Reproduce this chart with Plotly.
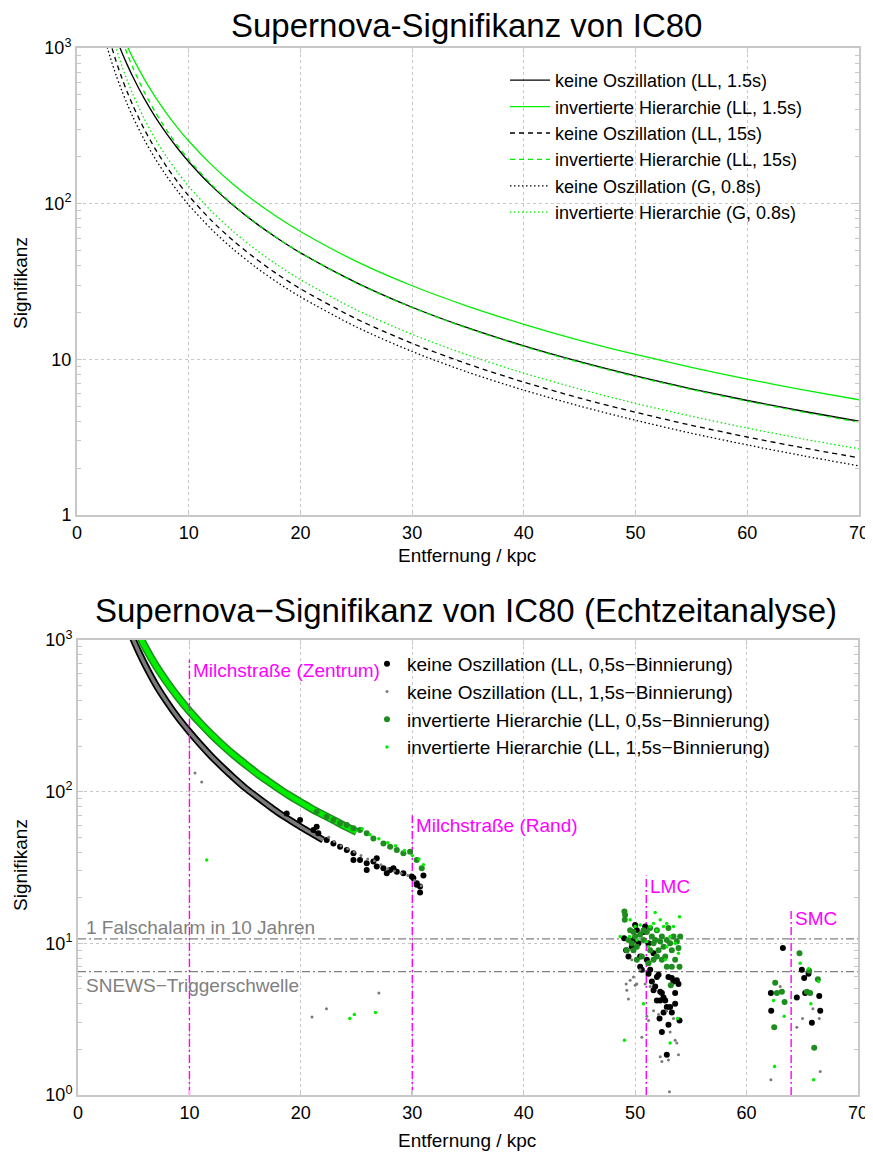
import math
import plotly.graph_objects as go

FONT = "Liberation Sans, Arial, Helvetica, sans-serif"
# the page body adds an 8px margin, so the figure is drawn 8px in from the window edge
OFF = 8
W, H = 873 - 2 * OFF, 1160 - 2 * OFF


def fx(p):
    return (p - OFF) / W


def fy(p):
    return 1 - (p - OFF) / H


# ---------------- top chart data (distance in kpc, significance) ----------------
dist = [2.5, 3, 3.5, 4, 4.5, 5, 6, 7, 8, 9, 10, 12, 14, 16, 18, 20, 25, 30, 35, 40, 45, 50, 55, 60, 65, 70]
sig_no_ll1_5 = [1888, 1461, 1161, 943, 779, 653, 476, 361, 283, 227, 186, 131, 97.3, 75.0, 59.5, 48.3, 31.1, 21.6, 15.9, 12.2, 9.65, 7.82, 6.47, 5.44, 4.64, 4.0]
sig_ih_ll1_5 = [2401, 1877, 1506, 1232, 1025, 864, 636, 485, 382, 307, 252.5, 178.8, 132.9, 102.5, 81.5, 66.3, 42.6, 29.7, 21.9, 16.8, 13.26, 10.75, 8.89, 7.47, 6.37, 5.5]
sig_no_ll15 = [1462, 1076, 822, 646, 521, 428, 303, 225, 173.7, 138, 112.3, 78.4, 57.7, 44.3, 35.0, 28.4, 18.2, 12.66, 9.32, 7.14, 5.64, 4.57, 3.77, 3.17, 2.70, 2.33]
sig_ih_ll15 = [2732, 1965, 1476, 1148, 916, 748, 525, 388, 298, 236, 191.9, 133.6, 98.3, 75.3, 59.6, 48.3, 30.9, 21.5, 15.8, 12.1, 9.56, 7.74, 6.40, 5.38, 4.58, 3.95]
sig_no_g08 = [1136, 859, 669, 535, 436, 361, 259, 194.5, 151, 120.5, 98.3, 68.9, 50.9, 39.1, 31.0, 25.2, 16.15, 11.23, 8.26, 6.34, 5.01, 4.06, 3.35, 2.82, 2.40, 2.07]
sig_ih_g08 = [1841, 1324, 995, 773, 617.5, 504, 353.5, 261.3, 200.9, 159.2, 129.2, 90.0, 66.2, 50.7, 40.1, 32.5, 20.8, 14.47, 10.64, 8.15, 6.44, 5.21, 4.31, 3.62, 3.08, 2.66]

top_names = ["keine Oszillation (LL, 1.5s)", "invertierte Hierarchie (LL, 1.5s)",
             "keine Oszillation (LL, 15s)", "invertierte Hierarchie (LL, 15s)",
             "keine Oszillation (G, 0.8s)", "invertierte Hierarchie (G, 0.8s)"]

# ---------------- bottom chart data ----------------
# dense band (Milky Way region)
band_no_d = [4.5, 5, 5.5, 6, 7, 8, 9, 10, 11, 12, 13, 14, 15, 16, 17, 18, 19, 20, 21, 22]
band_no_v = [1216, 990, 820, 690, 505, 388, 306, 248, 204, 170, 144, 123, 106, 93, 82, 72.5, 65, 58.5, 53, 48]
band_ih_d = [5.2, 5.7, 6, 7, 8, 9, 10, 11, 12, 13, 14, 15, 16, 17, 18, 19, 20, 21, 22, 23, 24, 25]
band_ih_v = [1198, 1000, 904, 675, 525, 418, 340, 282, 237, 202, 174, 152, 133, 118, 105, 94, 85, 77, 70.5, 64.5, 59, 54.4]

# keine Oszillation, 0,5s binning (black)
no05_d = [21.13, 21.57, 22.32, 22.92, 23.52, 24.12, 24.72, 25.31, 25.91, 26.51, 26.81, 27.41, 28.01, 28.61, 29.20, 29.95, 30.40, 30.70, 25.91, 26.81, 27.71, 28.31, 24.72, 21.42, 19.93, 18.73, 30.4, 30.7, 30.1, 31.0,
          49.01, 49.19, 49.40, 49.70, 49.85, 50.00, 50.15, 50.30, 50.45, 50.60, 50.75, 50.90, 51.05, 51.20, 51.35, 51.50, 51.65, 51.80, 51.95, 52.10, 52.25, 52.40, 52.55, 52.70, 52.84, 52.99, 53.14, 53.29, 53.44, 53.59, 53.74, 53.89, 53.98, 52.19, 52.40, 52.84, 52.99, 51.95, 52.55, 53.29, 53.59, 51.65, 52.25, 51.20, 50.45,
          63.26, 64.96, 65.17, 65.56, 64.51, 65.26, 66.52, 62.18, 66.61, 62.21, 65.86]
no05_v = [55.9, 53.1, 48.0, 45.6, 43.4, 41.2, 39.2, 35.4, 33.7, 34.6, 32.1, 31.3, 30.5, 29.7, 29.0, 27.6, 24.9, 23.7, 30.5, 36.4, 29.0, 31.3, 35.4, 58.7, 65.0, 71.9, 24.3, 21.6, 27.0, 28.0,
          10.8, 9.0, 8.2, 9.5, 10.5, 13.2, 12.2, 10.0, 8.2, 6.7, 11.9, 12.9, 7.8, 10.0, 6.7, 5.6, 8.6, 5.2, 6.0, 6.2, 4.8, 4.7, 4.4, 4.2, 3.8, 6.0, 3.8, 5.9, 5.6, 4.0, 5.7, 5.4, 3.1, 3.2, 2.6, 1.84, 2.9, 4.2, 3.5, 3.5, 4.7, 4.9, 4.2, 6.3, 7.0,
          9.3, 6.7, 5.9, 6.3, 4.4, 4.7, 4.5, 4.7, 3.6, 3.6, 3.0]

# keine Oszillation, 1,5s binning (grey)
no15_d = [22.5, 23.0, 23.6, 24.2, 24.8, 25.4, 26.0, 26.6, 27.2, 27.8, 28.4, 29.0, 29.6, 30.2, 30.8, 10.5, 11.1, 21.0, 22.3, 27.0,
          49.19, 49.25, 49.40, 49.55, 49.85, 50.00, 50.15, 50.60, 50.90, 51.05, 51.20, 51.35, 51.65, 52.10, 52.25, 52.40, 52.84, 52.99, 53.14, 53.44, 53.59, 53.74, 53.89, 53.08, 50.45, 49.70,
          62.18, 64.51, 65.02, 65.95, 66.52, 66.61, 63.02]
no15_v = [50, 47, 44, 42, 40, 38, 36, 35, 33, 31, 30, 29, 28, 26, 24, 133, 116, 3.27, 3.7, 4.7,
          5.4, 4.9, 4.3, 5.7, 6.0, 5.3, 5.4, 2.4, 5.4, 3.3, 3.1, 5.2, 3.6, 3.4, 1.79, 1.66, 3.6, 1.70, 2.6, 3.2, 2.3, 2.2, 1.84, 1.05, 6.7, 7.8,
          1.26, 2.8, 3.2, 3.7, 3.2, 1.43, 5.2]

# invertierte Hierarchie, 0,5s binning (dark green)
ih05_d = [21.42, 22.32, 22.92, 23.52, 24.12, 24.72, 25.31, 25.91, 26.51, 27.41, 28.01, 28.61, 29.20, 29.80, 30.40, 30.85,
          49.04, 49.10, 49.07, 49.55, 49.85, 49.40, 49.70, 50.00, 50.15, 50.45, 50.75, 51.05, 51.35, 51.50, 51.65, 51.80, 51.95, 52.10, 52.25, 52.40, 52.55, 52.70, 52.84, 52.99, 53.14, 53.29, 53.44, 53.59, 53.74, 53.89, 53.98, 54.04, 52.84, 53.20, 49.85, 50.60, 51.20, 51.65, 49.25, 50.15, 52.40, 53.29, 50.75, 51.35, 51.95,
          64.75, 62.57, 62.72, 63.17, 63.41, 62.48, 65.62, 65.41, 65.71, 66.40, 66.07]
ih05_v = [73.8, 68.4, 65.0, 61.8, 60.3, 57.3, 55.9, 53.1, 49.2, 45.6, 43.4, 41.2, 39.2, 40.2, 35.4, 31.3,
          16.2, 15.4, 14.3, 12.2, 11.9, 10.5, 10.0, 11.1, 9.5, 11.4, 12.2, 11.9, 12.6, 11.1, 10.0, 10.5, 12.2, 9.0, 10.3, 11.1, 9.5, 8.2, 10.5, 12.6, 10.0, 9.0, 11.1, 7.8, 10.3, 9.3, 7.0, 11.1, 7.0, 5.3, 9.0, 8.2, 7.4, 7.8, 9.0, 7.8, 7.8, 7.0, 10.5, 9.0, 8.2,
          8.6, 5.5, 4.7, 4.8, 4.1, 2.8, 6.6, 4.8, 4.7, 5.8, 2.05]

# invertierte Hierarchie, 1,5s binning (light green)
ih15_d = [25.5, 26.2, 27.0, 27.8, 28.5, 29.3, 30.0, 30.6, 31.0, 11.55, 24.4, 24.8, 26.7,
          49.04, 49.55, 50.00, 50.15, 50.45, 50.75, 51.05, 51.35, 51.65, 51.95, 52.25, 52.55, 52.84, 53.14, 53.59, 53.89, 53.98, 53.80, 53.14, 48.66, 49.49, 51.20, 52.84, 52.70, 53.44, 51.80,
          64.81, 65.56, 66.46, 65.77, 63.38, 62.51, 66.01, 62.42]
ih15_v = [57, 52, 49, 46, 44, 41, 38, 36, 33, 35.5, 3.2, 3.4, 3.5,
          2.3, 14.3, 12.9, 10.5, 13.2, 4.0, 10.3, 12.9, 13.5, 12.2, 14.3, 12.9, 13.5, 11.1, 10.0, 8.6, 15.0, 3.2, 2.2, 11.1, 11.1, 9.5, 9.5, 7.8, 12.9, 16.0,
          7.4, 6.8, 5.6, 4.0, 3.3, 1.54, 1.26, 4.2]

# reference lines
src_names = ["Milchstraße (Zentrum)", "Milchstraße (Rand)", "LMC", "SMC"]
src_dist = [10, 30, 51, 64]
src_top = [740, 70, 28, 17]
thr_names = ["1 Falschalarm in 10 Jahren", "SNEWS\u2212Triggerschwelle"]
thr_vals = [10.7, 6.5]

fig = go.Figure()

# ---- top traces ----
top_series = [sig_no_ll1_5, sig_ih_ll1_5, sig_no_ll15, sig_ih_ll15, sig_no_g08, sig_ih_g08]
top_colors = ["black", "#00ee00", "black", "#00ee00", "black", "#00ee00"]
top_dash = ["solid", "solid", "5px,4px", "5px,4px", "1.5px,2.5px", "1.5px,2.5px"]
for name, ys, c, dsh in zip(top_names, top_series, top_colors, top_dash):
    fig.add_trace(go.Scatter(x=dist, y=ys, name=name, mode="lines",
                             line=dict(color=c, width=1.3, dash=dsh, shape="spline", smoothing=0.8),
                             xaxis="x", yaxis="y", legend="legend"))

# ---- bottom traces ----
BLACK, GREY, DGREEN, LGREEN = "#000000", "#7a7a7a", "#1e8c1e", "#00ee00"
fig.add_trace(go.Scatter(x=band_no_d, y=band_no_v, mode="lines", showlegend=False, hoverinfo="skip",
                         line=dict(color=BLACK, width=7, shape="spline"), xaxis="x2", yaxis="y2"))
fig.add_trace(go.Scatter(x=band_no_d, y=band_no_v, mode="lines", showlegend=False, hoverinfo="skip",
                         line=dict(color=GREY, width=3.5, shape="spline"), xaxis="x2", yaxis="y2"))
fig.add_trace(go.Scatter(x=band_ih_d, y=band_ih_v, mode="lines", showlegend=False, hoverinfo="skip",
                         line=dict(color=DGREEN, width=8, shape="spline"), xaxis="x2", yaxis="y2"))
fig.add_trace(go.Scatter(x=band_ih_d, y=band_ih_v, mode="lines", showlegend=False, hoverinfo="skip",
                         line=dict(color=LGREEN, width=5, shape="spline"), xaxis="x2", yaxis="y2"))

for nm, tp in zip(src_dist, src_top):
    fig.add_trace(go.Scatter(x=[nm, nm], y=[1, tp], mode="lines", showlegend=False, hoverinfo="skip",
                             line=dict(color="#ff00ff", width=1.4, dash="8px,3px,2px,3px"),
                             xaxis="x2", yaxis="y2"))
for tv in thr_vals:
    fig.add_trace(go.Scatter(x=[0, 70], y=[tv, tv], mode="lines", showlegend=False, hoverinfo="skip",
                             line=dict(color="#808080", width=1.2, dash="8px,3px,2px,3px"),
                             xaxis="x2", yaxis="y2"))

bottom_names = ["keine Oszillation (LL, 0,5s\u2212Binnierung)", "keine Oszillation (LL, 1,5s\u2212Binnierung)",
                "invertierte Hierarchie (LL, 0,5s\u2212Binnierung)", "invertierte Hierarchie (LL, 1,5s\u2212Binnierung)"]
bottom_data = [(no05_d, no05_v, BLACK, 6), (no15_d, no15_v, GREY, 3),
               (ih05_d, ih05_v, DGREEN, 6), (ih15_d, ih15_v, LGREEN, 3.5)]
for nm, (xs, ys, c, s) in zip(bottom_names, bottom_data):
    fig.add_trace(go.Scatter(x=xs, y=ys, name=nm, mode="markers",
                             marker=dict(color=c, size=s, line=dict(width=0)),
                             xaxis="x2", yaxis="y2", legend="legend2"))

# ---- axes ----
AX = "#c8c8c8"
minor_vals = [v * m for m in (1, 10, 100) for v in range(2, 10)]


def xax(domain, anchor):
    return dict(domain=domain, anchor=anchor, range=[0, 70], tickvals=[0, 10, 20, 30, 40, 50, 60, 70],
                showline=True, linecolor=AX, linewidth=2, mirror="ticks", automargin=False,
                ticks="inside", ticklen=5, tickcolor=AX, tickwidth=1, ticklabeloverflow="allow",
                showgrid=True, gridcolor=AX, griddash="dot", gridwidth=1, zeroline=False,
                tickfont=dict(family=FONT, size=18, color="black"), ticklabelstandoff=0)


def yax(domain, anchor, ticktext):
    return dict(domain=domain, anchor=anchor, type="log", range=[0, 3], automargin=False,
                tickmode="array", tickvals=[1, 10, 100, 1000], ticktext=ticktext,
                showline=True, linecolor=AX, linewidth=2, mirror="ticks", ticklabeloverflow="allow",
                ticks="inside", ticklen=5, tickcolor=AX, tickwidth=1,
                minor=dict(tickmode="array", tickvals=minor_vals, ticks="inside", ticklen=4,
                           tickcolor=AX, showgrid=False),
                showgrid=True, gridcolor=AX, griddash="dot", gridwidth=1, zeroline=False,
                tickfont=dict(family=FONT, size=18, color="black"), ticklabelstandoff=0)


fig.update_layout(
    width=W, height=H, margin=dict(l=0, r=0, t=0, b=0, autoexpand=False),
    paper_bgcolor="white", plot_bgcolor="white",
    font=dict(family=FONT, color="black"),
    xaxis=xax([fx(77), fx(859)], "y"),
    yaxis=yax([fy(515), fy(48)], "x", ["1", "10", "10<sup>2</sup>", "10<sup>3</sup>"]),
    xaxis2=xax([fx(78), fx(858)], "y2"),
    yaxis2=yax([fy(1095), fy(640)], "x2",
               ["10<sup>0</sup>", "10<sup>1</sup>", "10<sup>2</sup>", "10<sup>3</sup>"]),
    legend=dict(x=fx(505), y=fy(62), xanchor="left", yanchor="top", bgcolor="rgba(0,0,0,0)",
                font=dict(family=FONT, size=18, color="black"), tracegroupgap=0, itemwidth=40),
    legend2=dict(x=fx(775), y=fy(645), xanchor="right", yanchor="top", bgcolor="rgba(0,0,0,0)",
                 font=dict(family=FONT, size=19, color="black"), tracegroupgap=0),
)

ann = []
ann.append(dict(text="Supernova-Signifikanz von IC80", x=fx(466), y=fy(25), xref="paper", yref="paper",
                showarrow=False, borderpad=0, font=dict(family=FONT, size=33, color="black"),
                xanchor="center", yanchor="middle"))
ann.append(dict(text="Supernova\u2212Signifikanz von IC80 (Echtzeitanalyse)", x=fx(466), y=fy(610),
                xref="paper", yref="paper", showarrow=False, font=dict(family=FONT, size=33, color="black"),
                xanchor="center", yanchor="middle"))
for yc in (555, 1140):
    ann.append(dict(text="Entfernung / kpc", x=fx(467), y=fy(yc), xref="paper", yref="paper",
                    showarrow=False, font=dict(family=FONT, size=19, color="black"),
                    xanchor="center", yanchor="middle"))
for yc in (283, 865):
    ann.append(dict(text="Signifikanz", x=fx(20), y=fy(yc), xref="paper", yref="paper", textangle=-90,
                    showarrow=False, font=dict(family=FONT, size=19, color="black"),
                    xanchor="center", yanchor="middle"))
for nm, dx, tp in zip(src_names, src_dist, src_top):
    ann.append(dict(text=nm, x=dx, y=math.log10(tp), xref="x2", yref="y2", showarrow=False,
                    xanchor="left", yanchor="top", xshift=2, yshift=2,
                    font=dict(family=FONT, size=19, color="#ff00ff")))
ann.append(dict(text=thr_names[0], x=0, y=math.log10(thr_vals[0]), xref="x2", yref="y2", showarrow=False,
                xanchor="left", yanchor="bottom", xshift=6, yshift=-1,
                font=dict(family=FONT, size=19, color="#808080")))
ann.append(dict(text=thr_names[1], x=0, y=math.log10(thr_vals[1]), xref="x2", yref="y2", showarrow=False,
                xanchor="left", yanchor="top", xshift=6, yshift=-1,
                font=dict(family=FONT, size=19, color="#808080")))
fig.update_layout(annotations=ann)

fig.write_html("out.html")
